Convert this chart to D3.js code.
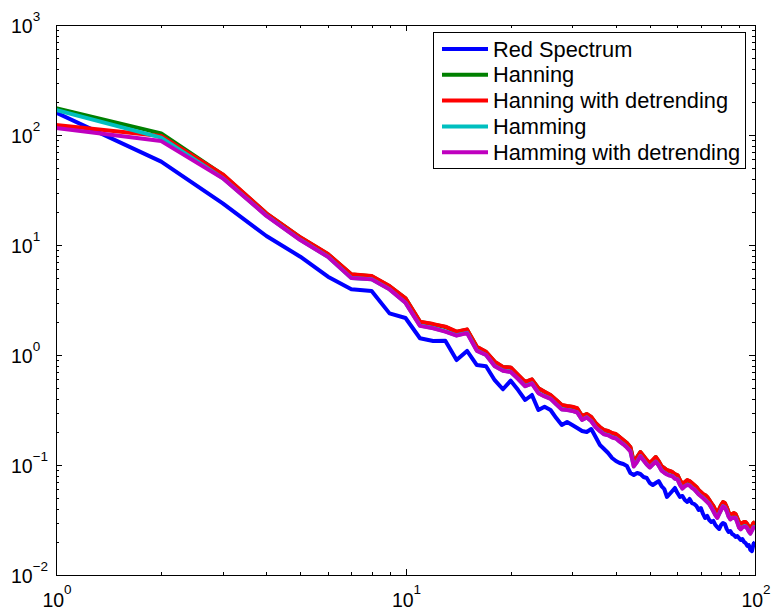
<!DOCTYPE html>
<html>
<head>
<meta charset="utf-8">
<script src="https://cdn.jsdelivr.net/npm/d3@7"></script>
<style>
  body { margin: 0; background: #fff; }
  svg { display: block; }
</style>
</head>
<body>
<div id="chart-area"></div>
<script>
// frequency 1..100
const freq = d3.range(1, 101)

const redSpectrum = [160, 57.2, 23.9, 12.07, 7.83, 5.15, 3.96, 3.82, 2.39, 2.17,
  1.42, 1.34, 1.35, 0.90, 1.09, 0.81, 0.79, 0.59, 0.488, 0.584,
  0.48, 0.39, 0.433, 0.316, 0.339, 0.316, 0.267, 0.231, 0.246, 0.231,
  0.217, 0.204, 0.1995, 0.2125, 0.1797, 0.152, 0.1398, 0.1285, 0.1158, 0.1088,
  0.1043, 0.1021, 0.0979, 0.0846, 0.0811, 0.0846, 0.0828, 0.0778, 0.0762, 0.0686,
  0.0658, 0.0686, 0.0715, 0.0644, 0.0605, 0.0512, 0.0545, 0.058, 0.0618, 0.0556,
  0.0512, 0.0523, 0.0481, 0.0461, 0.0491, 0.0451, 0.0442, 0.0424, 0.039, 0.0406,
  0.0359, 0.033, 0.0344, 0.0316, 0.0303, 0.031, 0.0285, 0.0273, 0.0262, 0.0285,
  0.0297, 0.0291, 0.0262, 0.0246, 0.0251, 0.0236, 0.0231, 0.0222, 0.0226, 0.0217,
  0.0208, 0.0212, 0.02, 0.0195, 0.0184, 0.0187, 0.0169, 0.0165, 0.0191, 0.02]

const hanning = [175, 103.5, 43.6, 19.3, 11.7, 8.25, 5.4, 5.21, 4.22, 3.27,
  2.0, 1.9, 1.8, 1.62, 1.7, 1.18, 1.065, 0.866, 0.776, 0.767,
  0.657, 0.567, 0.597, 0.498, 0.462, 0.431, 0.388, 0.349, 0.342, 0.337,
  0.326, 0.278, 0.29, 0.272, 0.24, 0.22, 0.207, 0.203, 0.194, 0.19,
  0.179, 0.168, 0.158, 0.145, 0.106, 0.118, 0.131, 0.12, 0.11, 0.104,
  0.11, 0.118, 0.108, 0.0975, 0.0935, 0.0896, 0.0878, 0.086, 0.0824, 0.0807,
  0.0727, 0.0669, 0.0698, 0.0727, 0.0712, 0.0683, 0.0655, 0.0628, 0.059, 0.0565,
  0.0542, 0.0531, 0.051, 0.0479, 0.0449, 0.0422, 0.0388, 0.0364, 0.0396, 0.0431,
  0.0459, 0.0449, 0.0413, 0.0372, 0.0349, 0.0357, 0.0364, 0.0357, 0.0328, 0.0301,
  0.029, 0.0296, 0.0301, 0.0301, 0.029, 0.0272, 0.0261, 0.0278, 0.0296, 0.0301]

const hanningDetrend = [123.3, 97.9, 43.9, 19.4, 11.75, 8.28, 5.42, 5.23, 4.24, 3.28,
  2.01, 1.91, 1.81, 1.63, 1.71, 1.19, 1.07, 0.87, 0.78, 0.77,
  0.66, 0.57, 0.60, 0.50, 0.464, 0.433, 0.39, 0.351, 0.344, 0.339,
  0.328, 0.279, 0.291, 0.273, 0.241, 0.2215, 0.208, 0.204, 0.1954, 0.1913,
  0.1797, 0.1688, 0.1585, 0.1458, 0.1066, 0.1182, 0.1313, 0.1207, 0.111, 0.1043,
  0.111, 0.1182, 0.1088, 0.0979, 0.0939, 0.09, 0.0882, 0.0864, 0.0828, 0.0811,
  0.073, 0.0672, 0.0701, 0.073, 0.0715, 0.0686, 0.0658, 0.0631, 0.0593, 0.0568,
  0.0545, 0.0534, 0.0512, 0.0481, 0.0451, 0.0424, 0.039, 0.0366, 0.0398, 0.0433,
  0.0461, 0.0451, 0.0415, 0.0374, 0.0351, 0.0359, 0.0366, 0.0359, 0.033, 0.0303,
  0.0291, 0.0297, 0.0303, 0.0303, 0.0291, 0.0273, 0.0262, 0.0279, 0.0297, 0.0303]

const hamming = [169, 94.6, 40.6, 18.5, 11.15, 7.82, 5.02, 4.88, 3.96, 2.99,
  1.85, 1.76, 1.64, 1.51, 1.59, 1.1, 1.0, 0.795, 0.722, 0.703,
  0.607, 0.522, 0.552, 0.452, 0.422, 0.401, 0.357, 0.321, 0.317, 0.311,
  0.301, 0.258, 0.271, 0.251, 0.221, 0.204, 0.191, 0.187, 0.179, 0.175,
  0.164, 0.155, 0.145, 0.134, 0.0975, 0.1075, 0.1205, 0.1105, 0.1015, 0.0955,
  0.1015, 0.1075, 0.0995, 0.0895, 0.0855, 0.0824, 0.0804, 0.0794, 0.0754, 0.0744,
  0.0663, 0.0613, 0.0643, 0.0663, 0.0653, 0.0623, 0.0603, 0.0573, 0.0543, 0.0523,
  0.0503, 0.0483, 0.0462, 0.0442, 0.0412, 0.0382, 0.0352, 0.0332, 0.0362, 0.0392,
  0.0422, 0.0412, 0.0382, 0.0342, 0.0322, 0.0332, 0.0332, 0.0332, 0.0302, 0.0272,
  0.0262, 0.0272, 0.0277, 0.0277, 0.0267, 0.0249, 0.0239, 0.0254, 0.0272, 0.0277]

const hammingDetrend = [116, 88, 40.4, 18.4, 11.1, 7.8, 5.0, 4.87, 3.95, 2.98,
  1.84, 1.75, 1.63, 1.5, 1.58, 1.09, 1.0, 0.79, 0.72, 0.70,
  0.605, 0.52, 0.55, 0.45, 0.42, 0.40, 0.356, 0.32, 0.316, 0.31,
  0.30, 0.257, 0.27, 0.25, 0.22, 0.203, 0.19, 0.186, 0.178, 0.174,
  0.163, 0.154, 0.144, 0.133, 0.097, 0.107, 0.12, 0.11, 0.101, 0.095,
  0.101, 0.107, 0.099, 0.089, 0.085, 0.082, 0.08, 0.079, 0.075, 0.074,
  0.066, 0.061, 0.064, 0.066, 0.065, 0.062, 0.06, 0.057, 0.054, 0.052,
  0.05, 0.048, 0.046, 0.044, 0.041, 0.038, 0.035, 0.033, 0.036, 0.039,
  0.042, 0.041, 0.038, 0.034, 0.032, 0.033, 0.033, 0.033, 0.03, 0.027,
  0.026, 0.027, 0.0275, 0.0275, 0.0265, 0.0248, 0.0238, 0.0253, 0.027, 0.0275]

const seriesNames = ["Red Spectrum", "Hanning", "Hanning with detrending", "Hamming", "Hamming with detrending"]
const seriesValues = [redSpectrum, hanning, hanningDetrend, hamming, hammingDetrend]
const seriesColors = ["#0000ff", "#008000", "#ff0000", "#00bfbf", "#bf00bf"]

const xMajor = [1, 10, 100]
const yMajor = [0.01, 0.1, 1, 10, 100, 1000]

const svgWidth = 774
const svgHeight = 613
const margin = { left: 56, right: 19, top: 25, bottom: 38 }
const chartWidth = svgWidth - margin.left - margin.right
const chartHeight = svgHeight - margin.top - margin.bottom

const svg = d3.select("#chart-area")
  .append("svg")
  .attr("width", svgWidth)
  .attr("height", svgHeight)
  .style("font-family", "'Liberation Sans', Arial, sans-serif")

const xScale = d3.scaleLog().domain([1, 100]).range([margin.left, margin.left + chartWidth])
const yScale = d3.scaleLog().domain([0.01, 1000]).range([margin.top + chartHeight, margin.top])

// minor ticks: 2..9 of each decade
const minorOf = (lo, hi) => {
  const out = []
  for (let p = Math.log10(lo); p < Math.log10(hi); p++) {
    for (let m = 2; m <= 9; m++) out.push(m * Math.pow(10, p))
  }
  return out
}
const xMinor = minorOf(1, 100)
const yMinor = minorOf(0.01, 1000)

const x0 = margin.left, x1 = margin.left + chartWidth
const y0 = margin.top + chartHeight, y1 = margin.top

svg.append("defs").append("clipPath").attr("id", "plot-clip")
  .append("rect")
  .attr("x", x0).attr("y", y1)
  .attr("width", chartWidth).attr("height", chartHeight)

// ticks (inside, on all four sides)
const ticks = svg.append("g").attr("stroke", "#000").attr("stroke-width", 1)
function tickSet(vals, len) {
  vals.forEach(v => {
    const px = Math.round(xScale(v)) + 0.5
    ticks.append("line").attr("x1", px).attr("x2", px).attr("y1", y0).attr("y2", y0 - len)
    ticks.append("line").attr("x1", px).attr("x2", px).attr("y1", y1).attr("y2", y1 + len)
  })
}
function tickSetY(vals, len) {
  vals.forEach(v => {
    const py = Math.round(yScale(v)) + 0.5
    ticks.append("line").attr("x1", x0).attr("x2", x0 + len).attr("y1", py).attr("y2", py)
    ticks.append("line").attr("x1", x1).attr("x2", x1 - len).attr("y1", py).attr("y2", py)
  })
}
tickSet(xMinor, 3)
tickSet(xMajor, 6)
tickSetY(yMinor, 3)
tickSetY(yMajor, 6)

// lines
const line = d3.line()
  .x((d, i) => xScale(freq[i]))
  .y(d => yScale(d))

const plot = svg.append("g").attr("clip-path", "url(#plot-clip)")
seriesValues.forEach((vals, k) => {
  plot.append("path")
    .datum(vals)
    .attr("fill", "none")
    .attr("stroke", seriesColors[k])
    .attr("stroke-width", 4)
    .attr("stroke-linejoin", "round")
    .attr("d", line)
})

// box
svg.append("rect")
  .attr("x", x0 + 0.5).attr("y", y1 + 0.5)
  .attr("width", chartWidth).attr("height", chartHeight)
  .attr("fill", "none").attr("stroke", "#000").attr("stroke-width", 1)

// tick labels
const exp = v => Math.round(Math.log10(v)).toString().replace("-", "\u2212")

const xLab = svg.append("g").attr("fill", "#000")
xMajor.forEach(v => {
  const t = xLab.append("text")
    .attr("x", xScale(v) + 1)
    .attr("y", y0 + 32)
    .attr("text-anchor", "middle")
    .attr("font-size", 19.5)
  t.append("tspan").text("10")
  t.append("tspan").attr("dy", -13).attr("font-size", 13.5).text(exp(v))
})

const yLab = svg.append("g").attr("fill", "#000")
yMajor.forEach(v => {
  const t = yLab.append("text")
    .attr("x", 11)
    .attr("y", yScale(v) + 8)
    .attr("text-anchor", "start")
    .attr("font-size", 19.5)
  t.append("tspan").text("10")
  t.append("tspan").attr("dy", -12.5).attr("font-size", 13.5).text(exp(v))
})

// legend
const legend = svg.append("g")
legend.append("rect")
  .attr("x", 433.5).attr("y", 32.5)
  .attr("width", 312).attr("height", 136)
  .attr("fill", "#fff").attr("stroke", "#000").attr("stroke-width", 1)

seriesNames.forEach((name, k) => {
  const cy = 49 + k * 25.8
  legend.append("line")
    .attr("x1", 442).attr("x2", 488)
    .attr("y1", cy).attr("y2", cy)
    .attr("stroke", seriesColors[k]).attr("stroke-width", 4)
  legend.append("text")
    .attr("x", 493).attr("y", cy)
    .attr("dy", "0.35em")
    .attr("font-size", 21.8)
    .attr("fill", "#000")
    .text(name)
})
</script>
</body>
</html>
